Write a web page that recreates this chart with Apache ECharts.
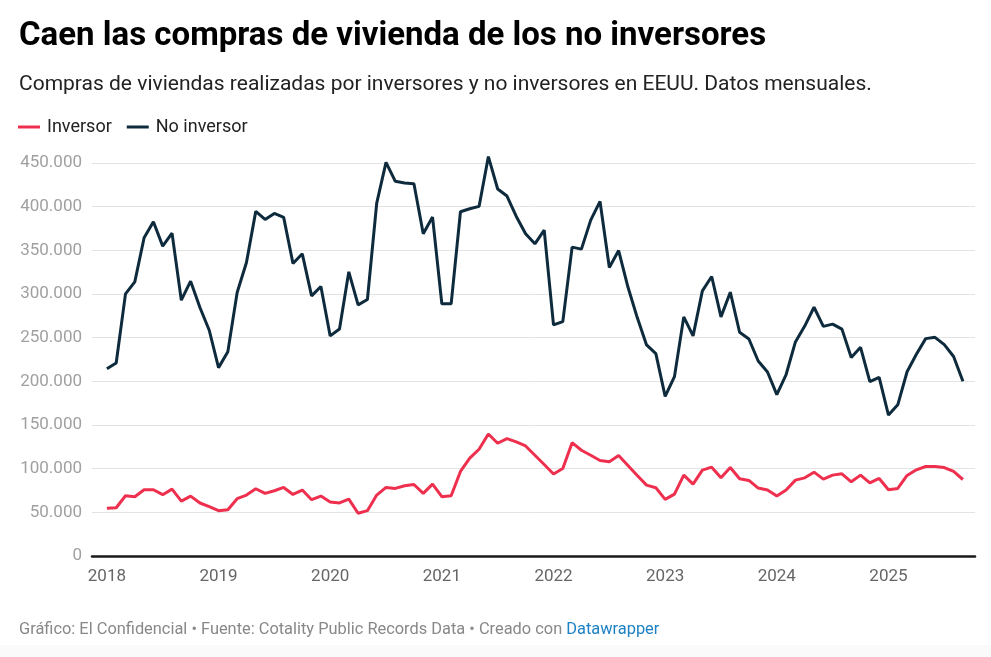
<!DOCTYPE html>
<html>
<head>
<meta charset="utf-8">
<script src="https://cdn.jsdelivr.net/npm/echarts@6/dist/echarts.min.js"></script>
<style>
html,body{margin:0;padding:0;background:#fff;}
#c{width:991px;height:657px;}
</style>
</head>
<body>
<div id="c"></div>
<script>
var startYear = 2018;
var yearTicks = [0, 12, 24, 36, 48, 60, 72, 84];
var inversor = [
  54600, 55300, 69000, 67900, 75900, 75900, 70200, 76600, 62900, 68600, 60700, 56500,
  51900, 53000, 65600, 69800, 77000, 71700, 74700, 78500, 70500, 75500, 64500, 68600,
  61800, 60700, 65200, 48900, 51900, 69800, 78500, 77400, 80400, 81900, 71700, 82300,
  67900, 69000, 96800, 112000, 122200, 139700, 129100, 134400, 130600, 126000, 115400, 104800,
  93900, 100200, 129800, 121100, 115400, 109300, 107800, 115000, 103600, 92200, 81200, 78100,
  64800, 70900, 92600, 82300, 98300, 101700, 89500, 101300, 88400, 86500, 77800, 75500,
  68600, 75500, 86900, 89500, 96000, 88000, 92600, 94100, 85000, 92600, 83800, 88800,
  75900, 77400, 92200, 98700, 102500, 102500, 101300, 96800, 87600
];
var noInversor = [
  214500, 221000, 300200, 313900, 364400, 382700, 354800, 369700, 292900, 314700, 284500, 258500,
  215700, 234000, 301700, 336100, 394600, 385400, 392300, 387700, 334900, 346000, 297900, 308600,
  252000, 260000, 325400, 287500, 293700, 404100, 450800, 429000, 427100, 426300, 369000, 388100,
  288700, 288700, 394200, 397600, 400300, 457300, 420200, 412200, 388800, 369000, 357500, 373200,
  264600, 268400, 353700, 351400, 384600, 406000, 330400, 349800, 308000, 273000, 241700, 231700,
  182800, 205400, 273800, 252000, 303600, 320000, 273800, 302100, 256200, 248500, 223300, 210700,
  184800, 207800, 245100, 263300, 284800, 262900, 265500, 259800, 227300, 239000, 199600, 204500,
  161400, 173100, 211000, 231100, 248900, 250400, 242000, 228400, 200000
];

function pairs(arr){ return arr.map(function(v,i){ return [i, v]; }); }
function fmt(v){ return String(v).replace(/\B(?=(\d{3})+(?!\d))/g, '.'); }

var chart = echarts.init(document.getElementById('c'), null, {renderer:'canvas'});
var FONT = 'Roboto';
chart.setOption({
  backgroundColor: '#ffffff',
  animation: false,
  textStyle: {fontFamily: FONT},
  title: [
    {text: 'Caen las compras de vivienda de los no inversores', left: 14, top: 15,
     textStyle: {fontFamily: FONT, fontSize: 33, fontWeight: 'bold', color: '#000'}},
    {text: 'Compras de viviendas realizadas por inversores y no inversores en EEUU. Datos mensuales.', left: 14, top: 69,
     textStyle: {fontFamily: FONT, fontSize: 21, fontWeight: 'normal', color: '#222'}},
    {text: '{g|Gráfico: El Confidencial • Fuente: Cotality Public Records Data • Creado con }{b|Datawrapper}', left: 14, top: 617,
     textStyle: {fontFamily: FONT, fontSize: 16.4, fontWeight: 'normal',
       rich: {g: {color: '#888', fontSize: 16.4, fontFamily: FONT}, b: {color: '#1d81c4', fontSize: 16.4, fontFamily: FONT}}}}
  ],
  legend: {
    left: 13, top: 113, itemWidth: 22, itemHeight: 3, itemGap: 15, icon: 'rect',
    textStyle: {fontFamily: FONT, fontSize: 18, color: '#222', padding: [0,0,0,2]},
    data: ['Inversor', 'No inversor']
  },
  grid: {left: 92, right: 16, top: 163, bottom: 101, containLabel: false},
  xAxis: {
    type: 'value', min: -1.6, max: 93.3,
    axisLine: {show: true, onZero: false, lineStyle: {color: '#1a1a1a', width: 2.5}},
    axisTick: {show: false},
    splitLine: {show: false},
    axisLabel: {customValues: yearTicks, margin: 12, fontSize: 17, color: '#666', fontFamily: FONT,
      formatter: function(v){ return String(startYear + Math.round(v/12)); }}
  },
  yAxis: {
    type: 'value', min: 0, max: 450000, interval: 50000,
    axisLine: {show: false}, axisTick: {show: false},
    splitLine: {lineStyle: {color: '#e3e3e3', width: 1}},
    axisLabel: {margin: 10, fontSize: 17, color: '#a0a0a0', fontFamily: FONT, formatter: fmt}
  },
  series: [
    {name: 'Inversor', type: 'line', data: pairs(inversor), showSymbol: false, symbol: 'none', clip: false,
     lineStyle: {width: 3, color: '#ee2f4e'}, itemStyle: {color: '#ee2f4e'}, z: 3},
    {name: 'No inversor', type: 'line', data: pairs(noInversor), showSymbol: false, symbol: 'none', clip: false,
     lineStyle: {width: 3, color: '#0e2b3e'}, itemStyle: {color: '#0e2b3e'}, z: 3}
  ],
  graphic: [
    {type: 'rect', left: 0, top: 645, shape: {width: 991, height: 12}, style: {fill: '#fafafa'}, silent: true}
  ]
});
</script>
</body>
</html>
